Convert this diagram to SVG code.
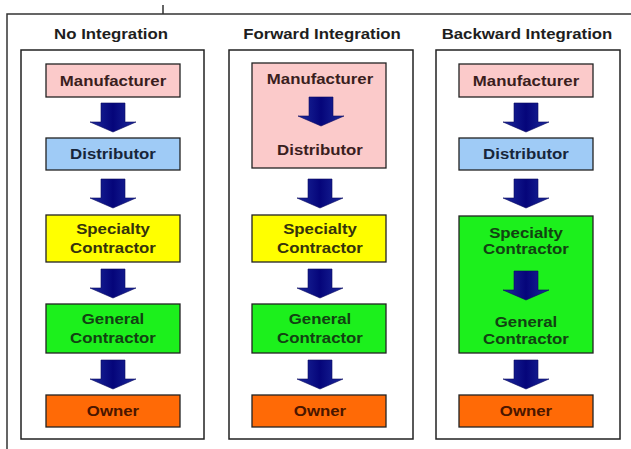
<svg xmlns="http://www.w3.org/2000/svg" width="631" height="449" viewBox="0 0 631 449">
  <defs>
    <linearGradient id="arrowFill" x1="0" y1="0" x2="1" y2="0">
      <stop offset="0" stop-color="#1c2a9c"/>
      <stop offset="0.5" stop-color="#05057a"/>
      <stop offset="1" stop-color="#1c2a9c"/>
    </linearGradient>
    <!-- block arrow, tip at (0,0), 29 px tall -->
    <path id="blockArrow" d="M-12,-29 H12 V-10 H23 L0,0 L-23,-10 H-12 Z"/>
  </defs>
  <style>
    .frame { fill: none; stroke: #333; stroke-width: 1.5; }
    .panel { fill: #fff; stroke: #222; stroke-width: 1.5; }
    .box { stroke: #222; stroke-width: 1.3; }
    .pink { fill: #fbcaca; }
    .blue { fill: #9fcbf6; }
    .yellow { fill: #ffff00; }
    .green { fill: #1cf01c; }
    .orange { fill: #ff6a06; }
    text { font-family: "Liberation Sans", Arial, sans-serif; font-weight: bold; font-size: 14px; text-anchor: middle; }
    .title { fill: #1e1e1e; }
    .tPink { fill: #3a1e1e; }
    .tBlue { fill: #17263a; }
    .tYellow { fill: #35330c; }
    .tGreen { fill: #124212; }
    .tOrange { fill: #4a1600; }
    .arrow { fill: url(#arrowFill); stroke: #0a0a60; stroke-width: 0.6; }
  </style>
  <rect width="631" height="449" fill="#fff"/>

  <!-- outer frame -->
  <path class="frame" d="M7,449 V14 H631 M163,5 V14"/>

  <!-- No Integration -->
  <g id="panel-no-integration">
    <text class="title" transform="translate(111 39) scale(1.2 1)">No Integration</text>
    <rect class="panel" x="21" y="50" width="183" height="389"/>
  </g>
  <g id="p1-manufacturer">
    <rect class="box pink" x="46" y="64" width="134" height="33"/>
    <text class="tPink" transform="translate(113 85.5) scale(1.2 1)">Manufacturer</text>
  </g>
  <g id="p1-distributor">
    <rect class="box blue" x="46" y="138" width="134" height="32"/>
    <text class="tBlue" transform="translate(113 159) scale(1.2 1)">Distributor</text>
  </g>
  <g id="p1-specialty">
    <rect class="box yellow" x="46" y="215" width="134" height="47"/>
    <text class="tYellow" transform="translate(113 234) scale(1.2 1)">Specialty</text>
    <text class="tYellow" transform="translate(113 253) scale(1.2 1)">Contractor</text>
  </g>
  <g id="p1-general">
    <rect class="box green" x="46" y="304" width="134" height="49"/>
    <text class="tGreen" transform="translate(113 324) scale(1.2 1)">General</text>
    <text class="tGreen" transform="translate(113 343) scale(1.2 1)">Contractor</text>
  </g>
  <g id="p1-owner">
    <rect class="box orange" x="46" y="395" width="134" height="32"/>
    <text class="tOrange" transform="translate(113 416) scale(1.2 1)">Owner</text>
  </g>

  <!-- Forward Integration -->
  <g id="panel-forward-integration">
    <text class="title" transform="translate(322 39) scale(1.2 1)">Forward Integration</text>
    <rect class="panel" x="229" y="50" width="184" height="389"/>
  </g>
  <g id="p2-manufacturer-distributor">
    <rect class="box pink" x="252" y="63" width="134" height="105"/>
    <text class="tPink" transform="translate(320 83.5) scale(1.2 1)">Manufacturer</text>
    <text class="tPink" transform="translate(320 155) scale(1.2 1)">Distributor</text>
  </g>
  <g id="p2-specialty">
    <rect class="box yellow" x="252" y="215" width="134" height="47"/>
    <text class="tYellow" transform="translate(320 234) scale(1.2 1)">Specialty</text>
    <text class="tYellow" transform="translate(320 253) scale(1.2 1)">Contractor</text>
  </g>
  <g id="p2-general">
    <rect class="box green" x="252" y="304" width="134" height="49"/>
    <text class="tGreen" transform="translate(320 324) scale(1.2 1)">General</text>
    <text class="tGreen" transform="translate(320 343) scale(1.2 1)">Contractor</text>
  </g>
  <g id="p2-owner">
    <rect class="box orange" x="252" y="395" width="134" height="32"/>
    <text class="tOrange" transform="translate(320 416) scale(1.2 1)">Owner</text>
  </g>

  <!-- Backward Integration -->
  <g id="panel-backward-integration">
    <text class="title" transform="translate(527 39) scale(1.2 1)">Backward Integration</text>
    <rect class="panel" x="436" y="50" width="184" height="389"/>
  </g>
  <g id="p3-manufacturer">
    <rect class="box pink" x="459" y="64" width="134" height="33"/>
    <text class="tPink" transform="translate(526 85.5) scale(1.2 1)">Manufacturer</text>
  </g>
  <g id="p3-distributor">
    <rect class="box blue" x="459" y="138" width="134" height="32"/>
    <text class="tBlue" transform="translate(526 159) scale(1.2 1)">Distributor</text>
  </g>
  <g id="p3-specialty-general">
    <rect class="box green" x="459" y="216" width="134" height="137"/>
    <text class="tGreen" transform="translate(526 237.5) scale(1.2 1)">Specialty</text>
    <text class="tGreen" transform="translate(526 254) scale(1.2 1)">Contractor</text>
    <text class="tGreen" transform="translate(526 327) scale(1.2 1)">General</text>
    <text class="tGreen" transform="translate(526 343.5) scale(1.2 1)">Contractor</text>
  </g>
  <g id="p3-owner">
    <rect class="box orange" x="459" y="395" width="134" height="32"/>
    <text class="tOrange" transform="translate(526 416) scale(1.2 1)">Owner</text>
  </g>

  <!-- flow arrows -->
  <g id="connectors">
    <use class="arrow" href="#blockArrow" x="113" y="132"/>
    <use class="arrow" href="#blockArrow" x="113" y="208"/>
    <use class="arrow" href="#blockArrow" x="113" y="298"/>
    <use class="arrow" href="#blockArrow" x="113" y="389"/>

    <use class="arrow" href="#blockArrow" x="321" y="126"/>
    <use class="arrow" href="#blockArrow" x="320" y="208"/>
    <use class="arrow" href="#blockArrow" x="320" y="298"/>
    <use class="arrow" href="#blockArrow" x="320" y="389"/>

    <use class="arrow" href="#blockArrow" x="526" y="132"/>
    <use class="arrow" href="#blockArrow" x="526" y="208"/>
    <use class="arrow" href="#blockArrow" x="526" y="300"/>
    <use class="arrow" href="#blockArrow" x="526" y="389"/>
  </g>
</svg>
